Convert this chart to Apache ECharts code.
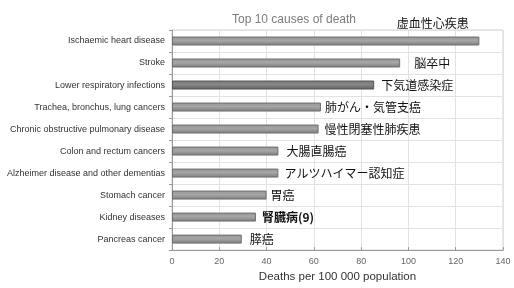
<!DOCTYPE html>
<html>
<head>
<meta charset="utf-8">
<script src="https://cdn.jsdelivr.net/npm/echarts@6/dist/echarts.min.js"></script>
<style>
  html, body { margin: 0; padding: 0; background: #fff; }
</style>
</head>
<body>
<div id="chart" style="width:514px;height:288px;"></div>
<script>
// top to bottom
const causes = ['Ischaemic heart disease', 'Stroke', 'Lower respiratory infections',
  'Trachea, bronchus, lung cancers', 'Chronic obstructive pulmonary disease',
  'Colon and rectum cancers', 'Alzheimer disease and other dementias',
  'Stomach cancer', 'Kidney diseases', 'Pancreas cancer'];
const deaths = [130, 96.5, 85.5, 63, 62, 45, 45, 40, 35.5, 29.5];
const jpLabels = ['虚血性心疾患', '脳卒中', '下気道感染症', '肺がん・気管支癌', '慢性閉塞性肺疾患',
  '大腸直腸癌', 'アルツハイマー認知症', '胃癌', '腎臓病(9)', '膵癌'];
const labelGap = [0, 14, 7, 4, 6, 8, 6, 4, 6, 8];

let myChart = echarts.init(document.getElementById('chart'));

function grayBar(top, mid, bottom) {
  return new echarts.graphic.LinearGradient(0, 0, 0, 1, [
    { offset: 0, color: top },
    { offset: 0.45, color: mid },
    { offset: 1, color: bottom }
  ]);
}

// bars drawn bottom-up by category axis, so reverse
let data = [];
for (let i = causes.length - 1; i >= 0; i--) {
  let item = {
    value: deaths[i],
    label: { formatter: jpLabels[i], distance: labelGap[i] }
  };
  if (i === 0) {
    item.label.position = 'top';
    item.label.offset = [107, -7];
  }
  if (i === 2) {
    item.itemStyle = { color: grayBar('#777', '#888', '#5e5e5e'), borderColor: '#555' };
  }
  if (i === 8) {
    item.label.fontWeight = 'bold';
    item.label.fontSize = 12;
  }
  data.push(item);
}

let option = {
  animation: false,
  textStyle: { fontFamily: 'Liberation Sans, Arial, sans-serif' },
  title: {
    text: 'Top 10 causes of death',
    left: 289,
    top: 9,
    textAlign: 'center',
    textStyle: { fontSize: 12, fontWeight: 'normal', color: '#7a7a7a' }
  },
  grid: {
    left: 172, right: 11, top: 30, bottom: 37,
    show: true, borderColor: '#d0d0d0', borderWidth: 1
  },
  xAxis: {
    type: 'value',
    min: 0, max: 140, interval: 20,
    name: 'Deaths per 100 000 population',
    nameLocation: 'middle',
    nameGap: 19,
    nameTextStyle: { fontSize: 11.5, color: '#333' },
    axisLine: { show: true, lineStyle: { color: '#999' } },
    axisTick: { show: true, inside: true, length: 3, lineStyle: { color: '#999' } },
    axisLabel: { fontSize: 9, color: '#666', margin: 7 },
    splitLine: { show: true, lineStyle: { color: '#e2e2e2' } }
  },
  yAxis: {
    type: 'category',
    data: causes.slice().reverse(),
    axisLine: { show: true, lineStyle: { color: '#999' } },
    axisTick: { show: true, length: 3, lineStyle: { color: '#999' } },
    axisLabel: { fontSize: 9, color: '#333', margin: 7 },
    splitLine: { show: true, lineStyle: { color: '#e2e2e2' } }
  },
  series: [
    {
      type: 'bar',
      data: data,
      barWidth: 9,
      itemStyle: { color: grayBar('#939393', '#a6a6a6', '#7b7b7b'), borderColor: '#6f6f6f', borderWidth: 1 },
      label: {
        show: true,
        position: 'right',
        fontFamily: 'Noto Sans CJK JP',
        fontSize: 12,
        color: '#111'
      }
    }
  ]
};
myChart.setOption(option);
</script>
</body>
</html>
